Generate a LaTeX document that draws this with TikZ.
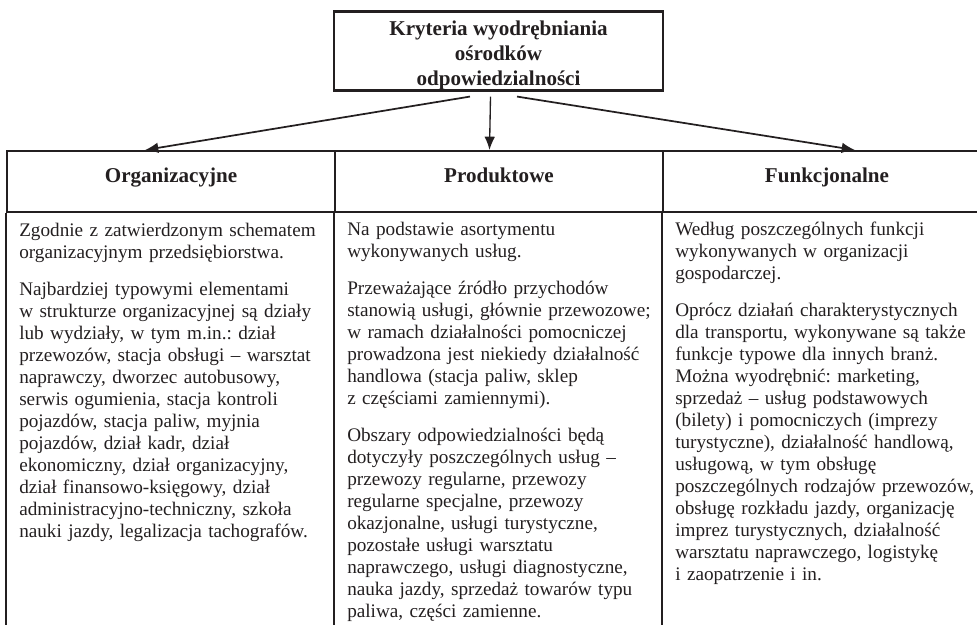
\documentclass[tikz,border=0pt]{standalone}
\usepackage{fontspec}
\setmainfont{Liberation Serif}
\usetikzlibrary{arrows.meta,calc}
\definecolor{ink}{RGB}{35,31,32}
\newcommand{\nextpar}{\par\vspace{11.25pt}}
\frenchspacing

\begin{document}
\begin{tikzpicture}[x=0.75pt,y=-0.75pt,
  every node/.style={text=ink},
  rule/.style={draw=ink,line width=1.5pt},
  head/.style={rule,minimum width=246pt,minimum height=45.75pt,inner sep=0pt,
    text height=9pt,text depth=7pt,font=\fontsize{15.8}{18.75}\selectfont\bfseries},
  body/.style={anchor=base west,inner sep=0pt,text width=232pt,align=left,
    font=\fontsize{14.4}{16.5}\selectfont},
  link/.style={draw=ink,line width=1.3pt,-{Latex[length=10pt,width=8pt]}}]
\useasboundingbox (0,0) rectangle (977,624);

\node[draw=ink,line width=2pt,minimum width=246.75pt,minimum height=58.5pt,inner sep=0pt,
  align=center,font=\fontsize{15.8}{19}\selectfont\bfseries] (crit) at (498.5,51)
  {\rule{0pt}{17.5pt}Kryteria wyodrębniania\\ośrodków\\odpowiedzialności};

\node[head] (org) at (171,181.5) {Organizacyjne};
\node[head] (prod) at (499,181.5) {Produktowe};
\node[head] (func) at (827,181.5) {Funkcjonalne};

\draw[rule] (org.south west) -- ++(0,430);
\draw[rule] (prod.south west) -- ++(0,430);
\draw[rule] (func.south west) -- ++(0,430);

\draw[link] ($(crit.south)+(-28.5,5)$) -- ($(org.north)+(-26,0)$);
\draw[link,line width=1pt] ($(crit.south)+(-8,5)$) -- ($(prod.north)+(-9.5,0)$);
\draw[link] ($(crit.south)+(18.5,5)$) -- ($(func.north)+(28,0)$);

\node[body] (orgtxt) at (19,236) {Zgodnie z zatwierdzonym schematem\\
organizacyjnym przedsiębiorstwa.\nextpar
Najbardziej typowymi elementami\\
w strukturze organizacyjnej są działy\\
lub wydziały, w tym m.in.: dział\\
przewozów, stacja obsługi – warsztat\\
naprawczy, dworzec autobusowy,\\
serwis ogumienia, stacja kontroli\\
pojazdów, stacja paliw, myjnia\\
pojazdów, dział kadr, dział\\
ekonomiczny, dział organizacyjny,\\
dział finansowo-księgowy, dział\\
administracyjno-techniczny, szkoła\\
nauki jazdy, legalizacja tachografów.};

\node[body] (prodtxt) at (347,235) {Na podstawie asortymentu\\
wykonywanych usług.\nextpar
Przeważające źródło przychodów\\
stanowią usługi, głównie przewozowe;\\
w ramach działalności pomocniczej\\
prowadzona jest niekiedy działalność\\
handlowa (stacja paliw, sklep\\
z częściami zamiennymi).\nextpar
Obszary odpowiedzialności będą\\
dotyczyły poszczególnych usług –\\
przewozy regularne, przewozy\\
regularne specjalne, przewozy\\
okazjonalne, usługi turystyczne,\\
pozostałe usługi warsztatu\\
naprawczego, usługi diagnostyczne,\\
nauka jazdy, sprzedaż towarów typu\\
paliwa, części zamienne.};

\node[body] (functxt) at (675,235) {Według poszczególnych funkcji\\
wykonywanych w organizacji\\
gospodarczej.\nextpar
Oprócz działań charakterystycznych\\
dla transportu, wykonywane są także\\
funkcje typowe dla innych branż.\\
Można wyodrębnić: marketing,\\
sprzedaż – usług podstawowych\\
(bilety) i pomocniczych (imprezy\\
turystyczne), działalność handlową,\\
usługową, w tym obsługę\\
poszczególnych rodzajów przewozów,\\
obsługę rozkładu jazdy, organizację\\
imprez turystycznych, działalność\\
warsztatu naprawczego, logistykę\\
i zaopatrzenie i in.};
\end{tikzpicture}
\end{document}
